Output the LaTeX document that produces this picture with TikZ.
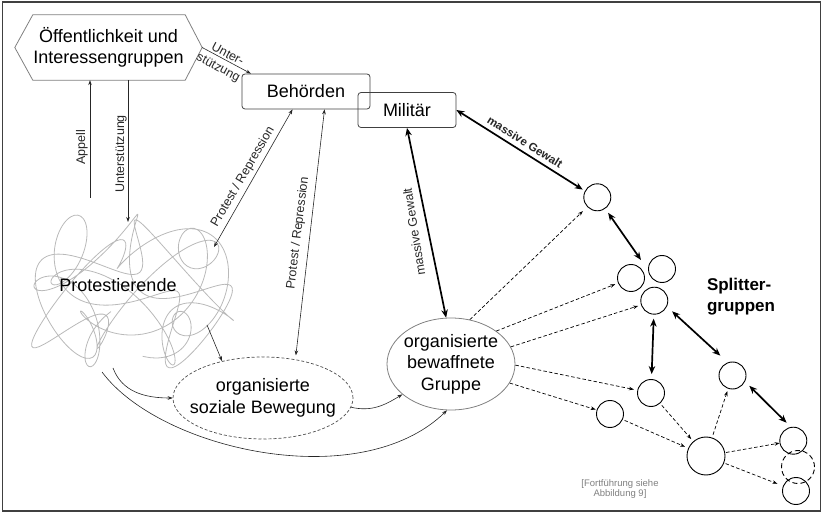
\documentclass[tikz,border=0pt]{standalone}
\usepackage{fontspec}
\setmainfont{Liberation Sans}
\usetikzlibrary{shapes.geometric, arrows.meta, calc}
\begin{document}
\begin{tikzpicture}[x=1pt,y=-1pt,
  big/.style={font=\fontsize{18}{21.5}\selectfont},
  lab/.style={font=\fontsize{12.5}{14}\selectfont, text=black!85, inner sep=0pt},
  box/.style={draw=black!75, rounded corners=3pt, line width=0.8pt, big, inner sep=0pt},
  sg/.style={circle, draw, line width=0.9pt, minimum size=27pt, inner sep=0pt},
  tarrow/.style={line width=0.6pt, black!85, -{Stealth[length=5pt,width=3.6pt]}},
  tboth/.style={line width=0.6pt, black!85, {Stealth[length=5pt,width=3.6pt]}-{Stealth[length=5pt,width=3.6pt]}},
  kboth/.style={line width=1.7pt, {Stealth[length=8pt,width=6.5pt]}-{Stealth[length=8pt,width=6.5pt]}},
  darrow/.style={line width=0.7pt, dash pattern=on 3.5pt off 2.2pt, -{Stealth[length=5pt,width=3.6pt]}},
  cloudline/.style={gray!55, line width=0.8pt, line join=round}
]
\useasboundingbox (0,0) rectangle (823,513);
\draw[line width=1.2pt, black!75] (2.5,2) rectangle (820.5,511);

% Hexagon
\node[big, align=center, minimum width=187pt, minimum height=65pt, inner sep=0pt] (hex) at (108.5,47.5) {Öffentlichkeit und\\Interessengruppen};
\draw[gray, line width=0.8pt] (hex.west) -- ($(hex.north west)+(18,0)$) -- ($(hex.north east)+(-17,0)$) -- (hex.east) -- ($(hex.south east)+(-17,0)$) -- ($(hex.south west)+(18,0)$) -- cycle;

% Authorities
\node[box, minimum width=128pt, minimum height=35pt] (beh) at (306,91.5) {Behörden};
\node[box, minimum width=98pt, minimum height=35pt] (mil) at (407,110) {Militär};

% Cloud of protesters
\draw[cloudline] plot[smooth, domain=0:1440, samples=500, variable=\t]
  ({133+74*sin(\t)+28*sin(3.7*\t+20)},
   {291+50*sin(1.3*\t+50)+27*cos(4.1*\t)});
\node[big] (prot) at (118,285) {Protestierende};

% Ellipses
\node[ellipse, draw=black!70, dash pattern=on 3pt off 2pt, line width=0.7pt, minimum width=180pt, minimum height=82pt, inner sep=0pt] (sb) at (263,398) {};
\node[big, align=center] (sbt) at (sb.center) {organisierte\\soziale Bewegung};
\node[ellipse, draw=gray, line width=0.8pt, minimum width=128pt, minimum height=92pt, inner sep=0pt] (bg) at (451,364) {};
\node[big, align=center] (bgt) at (bg.center) {organisierte\\bewaffnete\\Gruppe};

% Splinter groups
\node[sg] (c1) at (597.3,197.3) {};
\node[sg] (c2) at (631,278) {};
\node[sg] (c3) at (662,269) {};
\node[sg] (c4) at (654.3,300.7) {};
\node[sg] (c5) at (651,393) {};
\node[sg] (c6) at (610,414) {};
\node[sg] (c7) at (732.5,375.5) {};
\node[sg, minimum size=38pt] (c8) at (706,456) {};
\node[sg] (c9) at (793.3,440.7) {};
\node[circle, draw, line width=0.9pt, dash pattern=on 5pt off 3pt, minimum size=33pt, inner sep=0pt] (c10) at (798,467) {};
\node[sg] (c11) at (796,491) {};

\node[font=\bfseries\fontsize{17}{21}\selectfont, align=left] (split) at (741,297) {Splitter-\\gruppen};
\node[font=\fontsize{9.5}{10.5}\selectfont, text=gray, align=center] (fort) at (620,489) {[Fortführung siehe\\Abbildung 9]};

% coordinates on the cloud
\coordinate (cApp) at (90,198);
\coordinate (cUnt) at (128,222);
\coordinate (cPR) at (214,247);
\coordinate (cSB) at (207,325);
\coordinate (cL1) at (113,368);
\coordinate (cL2) at (102,372);
\coordinate (clu) at (641,260);

% Thin arrows
\draw[tarrow] (cApp) -- (cApp |- hex.south);
\node[lab, rotate=90] at (82,147) {Appell};
\draw[tarrow] (cUnt |- hex.south) -- (cUnt);
\node[lab, rotate=90] at (121,154) {Unterstützung};
\draw[tarrow] (hex.east) -- (beh.162);
\node[lab, rotate=-28] at (228,54) {Unter-};
\node[lab, rotate=-28] at (218,68) {stützung};

\draw[tboth] (beh.-127) -- (cPR);
\node[lab, rotate=59.7] at (243,177) {Protest / Repression};
\draw[tboth, shorten >=4pt] (beh.-44) -- (sb.50);
\node[lab, rotate=83] at (298,233) {Protest / Repression};

\draw[tarrow] (cSB) -- (sb.138);
\draw[tarrow] (cL1) .. controls (122,392) and (145,398) .. (sb.west);
\draw[tarrow] (cL2) .. controls (160,450) and (360,495) .. (bg.-95);
\draw[tarrow] (sb.-6) .. controls (372,412) and (385,405) .. (bg.-148);

% massive violence
\draw[kboth] (mil.south) -- (bg.96);
\node[lab, rotate=99] at (414,232) {massive Gewalt};
\draw[kboth, shorten >=2.5pt] (mil.east) -- (c1.153);
\node[lab, font=\bfseries\fontsize{11.5}{13}\selectfont, rotate=-32.2] at (525,142) {massive Gewalt};

\draw[kboth, shorten <=5pt] (c1) -- (clu);
\draw[kboth, shorten <=4pt, shorten >=5pt] (c4) -- (c5);
\draw[kboth, shorten <=7pt, shorten >=10pt] (c4.-25) -- (c7.110);
\draw[kboth, shorten <=6pt, shorten >=6pt] (c7.-26) -- (c9.100);

% dashed arrows
\draw[darrow, shorten >=6pt] (bg.67) -- (c1);
\draw[darrow, shorten >=3pt] (bg.36) -- (c2);
\draw[darrow, shorten >=3pt] (bg.16) -- (c4);
\draw[darrow, shorten >=3.5pt] (bg.-1) -- (c5);
\draw[darrow, shorten >=1pt] (bg.-18) -- (c6);
\draw[darrow, shorten <=2.5pt, shorten >=3pt] (c5) -- (c8);
\draw[darrow, shorten <=2pt, shorten >=3.5pt] (c6) -- (c8);
\draw[darrow, shorten <=3pt, shorten >=2.5pt] (c8) -- (c7);
\draw[darrow, shorten <=1pt] (c8) -- (c9);
\draw[darrow, shorten <=1.5pt, shorten >=6pt] (c8) -- (c11);
\end{tikzpicture}
\end{document}
